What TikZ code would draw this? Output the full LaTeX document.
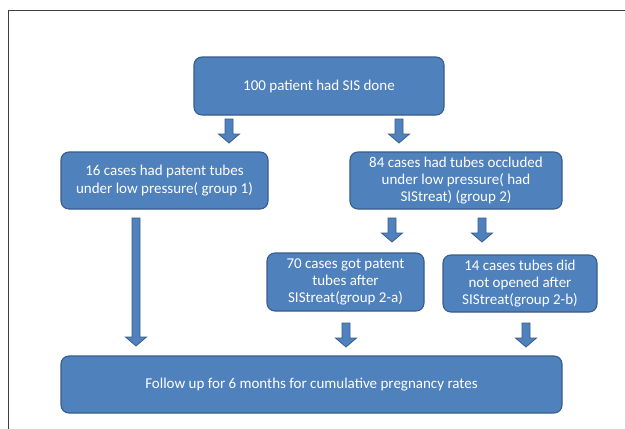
\documentclass[tikz,border=0pt]{standalone}
\usepackage{fontspec}
\setmainfont{Carlito}
\usepackage{tikz}
\usetikzlibrary{calc}
\definecolor{boxblue}{HTML}{4F81BD}
\definecolor{boxedge}{HTML}{385D8A}
\definecolor{framegray}{HTML}{3F3F3F}

\begin{document}
\begin{tikzpicture}[
  x=1pt, y=-1pt,
  font=\fontsize{15}{17.3}\selectfont,
  stage/.style={draw=boxedge, fill=boxblue, line width=1.1pt, rounded corners=8pt,
    text=white, align=center, inner sep=0pt},
  fatarrow/.style={draw=boxedge, fill=boxblue, line width=0.8pt, to path={
    let \p1=(\tikztostart), \p2=(\tikztotarget) in
    (\x1-4pt,\y1) -- (\x1+4pt,\y1) -- (\x1+4pt,\y2+9pt) -- (\x1+10.5pt,\y2+9pt)
    -- (\x1,\y2) -- (\x1-10.5pt,\y2+9pt) -- (\x1-4pt,\y2+9pt) -- cycle}}
]
\useasboundingbox[fill=white] (0,0) rectangle (625,429);
\draw[framegray, line width=0.9pt] (8,429) -- (8,10) -- (625,10);

\node[stage, minimum width=250, minimum height=58] (sis) at (319,86)
  {100 patient had SIS done};
\node[stage, minimum width=207, minimum height=57] (grp1) at (164.5,180.5)
  {16 cases had patent tubes\\under low pressure( group 1)};
\node[stage, minimum width=212, minimum height=57] (grp2) at (456,180.5)
  {84 cases had tubes occluded\\under low pressure( had\\SIStreat) (group 2)};
\node[stage, minimum width=157, minimum height=58] (grp2a) at (345.5,282)
  {70 cases got patent\\tubes after\\SIStreat(group 2-a)};
\node[stage, minimum width=154, minimum height=57] (grp2b) at (520,283.5)
  {14 cases tubes did\\not opened after\\SIStreat(group 2-b)};
\node[stage, minimum width=501, minimum height=57] (follow) at (311.5,384.5)
  {Follow up for 6 months for cumulative pregnancy rates};

% arrow ends
\coordinate (sis1) at (229,119);  \coordinate (grp1in) at (229,143);
\coordinate (sis2) at (399,119);  \coordinate (grp2in) at (399,143);
\coordinate (grp1out) at (136,218);  \coordinate (fol1) at (136,346);
\coordinate (grp2l) at (392,218);  \coordinate (grp2ain) at (392,242);
\coordinate (grp2r) at (482,218);  \coordinate (grp2bin) at (482,242);
\coordinate (grp2aout) at (346,323);  \coordinate (fol2) at (346,347);
\coordinate (grp2bout) at (526,323);  \coordinate (fol3) at (526,347);

\draw[fatarrow] (sis1) to (grp1in);
\draw[fatarrow] (sis2) to (grp2in);
\draw[fatarrow] (grp1out) to (fol1);
\draw[fatarrow] (grp2l) to (grp2ain);
\draw[fatarrow] (grp2r) to (grp2bin);
\draw[fatarrow] (grp2aout) to (fol2);
\draw[fatarrow] (grp2bout) to (fol3);
\end{tikzpicture}
\end{document}
